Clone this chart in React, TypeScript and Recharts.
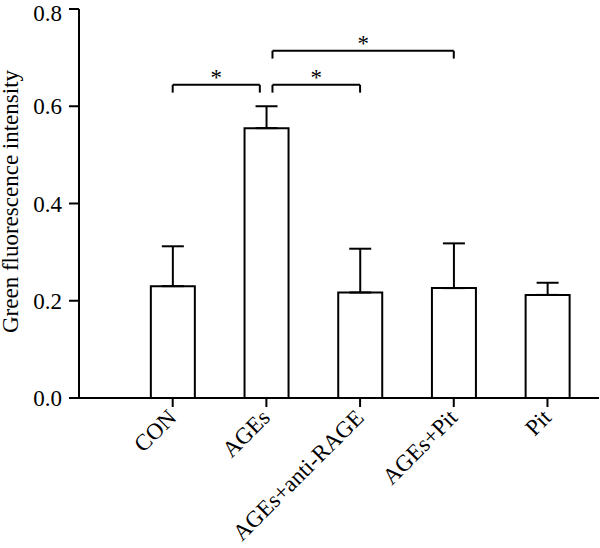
import React from 'react';
import { BarChart, Bar, XAxis, YAxis, ErrorBar, ReferenceLine, Label } from 'recharts';

const categories = ['CON', 'AGEs', 'AGEs+anti-RAGE', 'AGEs+Pit', 'Pit'];
const positions = [1, 2, 3, 4, 5];
const means = [0.230, 0.555, 0.217, 0.226, 0.212];
const errors = [0.082, 0.045, 0.090, 0.092, 0.025];
const yTicks = [0, 0.2, 0.4, 0.6, 0.8];

// significance brackets (data coordinates)
const bracketFrom = [1.0, 2.065, 2.065];
const bracketTo = [1.93, 3.0, 4.0];
const bracketY = [0.644, 0.644, 0.714];
const bracketDrop = [0.016, 0.016, 0.016];
const bracketLabel = ['*', '*', '*'];

const FONT = '"Liberation Serif", "Times New Roman", serif';

const data = categories.map((name, i) => ({
  pos: positions[i],
  name,
  mean: means[i],
  err: [0, errors[i]],
}));

const XTick = (props: any) => {
  const { x, y, payload } = props;
  const idx = positions.indexOf(payload.value);
  return (
    <g transform={`translate(${x + 5},${y + 10})`}>
      <text textAnchor="end" transform="rotate(-45)" fontSize={23} fontFamily={FONT} fill="#000">
        {categories[idx]}
      </text>
    </g>
  );
};

const YLabel = () => (
  <text
    transform="translate(18,201.5) rotate(-90)"
    textAnchor="middle"
    fontSize={23}
    fontFamily={FONT}
    fill="#000"
  >
    Green fluorescence intensity
  </text>
);

export default function App() {
  const lines: React.ReactNode[] = [];
  bracketFrom.forEach((from, i) => {
    const to = bracketTo[i];
    const y = bracketY[i];
    const yb = y - bracketDrop[i];
    lines.push(
      <ReferenceLine
        key={`h${i}`}
        segment={[{ x: from, y }, { x: to, y }]}
        stroke="#000"
        strokeWidth={2}
        ifOverflow="visible"
        label={{ value: bracketLabel[i], position: 'top', offset: 0, fontSize: 23, fontFamily: FONT, fill: '#000' }}
      />
    );
    lines.push(
      <ReferenceLine key={`l${i}`} segment={[{ x: from, y }, { x: from, y: yb }]} stroke="#000" strokeWidth={2} ifOverflow="visible" />
    );
    lines.push(
      <ReferenceLine key={`r${i}`} segment={[{ x: to, y }, { x: to, y: yb }]} stroke="#000" strokeWidth={2} ifOverflow="visible" />
    );
  });

  return (
    <div style={{ position: 'absolute', left: 0, top: 0, background: '#fff' }}>
      <BarChart
        width={600}
        height={548}
        data={data}
        margin={{ top: 9, right: 1, left: 0, bottom: 0 }}
        style={{ fontFamily: FONT }}
      >
        <XAxis
          dataKey="pos"
          type="number"
          domain={[0, 5.55]}
          ticks={positions}
          allowDecimals
          interval={0}
          height={150}
          tickSize={9}
          tick={<XTick />}
          axisLine={{ stroke: '#000', strokeWidth: 2 }}
          tickLine={{ stroke: '#000', strokeWidth: 2 }}
        />
        <YAxis
          type="number"
          domain={[0, 0.8]}
          ticks={yTicks}
          width={79}
          tickSize={10}
          tickMargin={7}
          tickFormatter={(v: number) => v.toFixed(1)}
          tick={{ fontSize: 23, fontFamily: FONT, fill: '#000' }}
          axisLine={{ stroke: '#000', strokeWidth: 2 }}
          tickLine={{ stroke: '#000', strokeWidth: 2 }}
        >
          <Label content={<YLabel />} />
        </YAxis>
        <Bar dataKey="mean" barSize={44} fill="#fff" stroke="#000" strokeWidth={2} isAnimationActive={false}>
          <ErrorBar dataKey="err" direction="y" width={11} stroke="#000" strokeWidth={2} isAnimationActive={false} />
        </Bar>
        {lines}
      </BarChart>
    </div>
  );
}
